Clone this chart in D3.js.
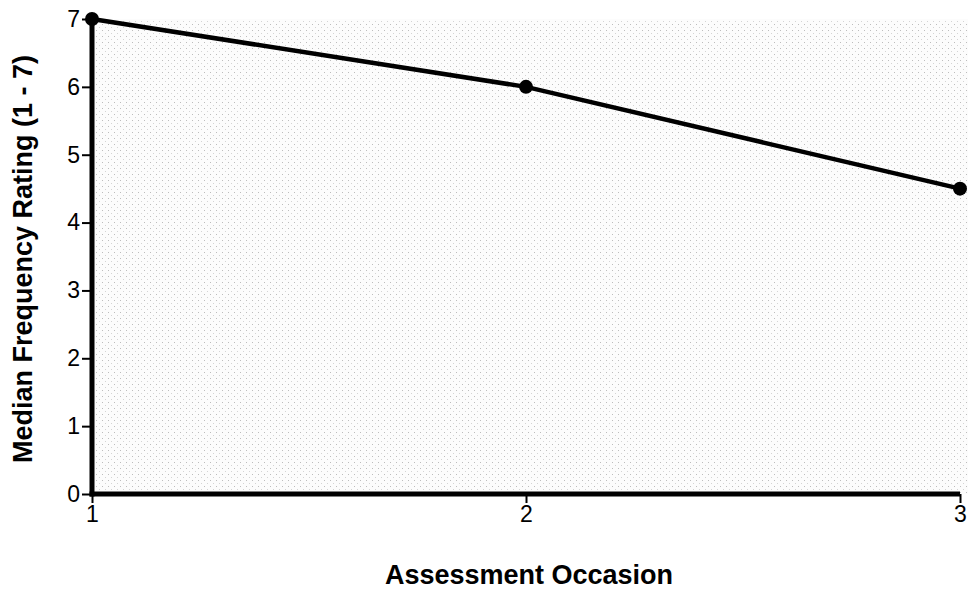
<!DOCTYPE html>
<html>
<head>
<meta charset="utf-8">
<script src="https://cdn.jsdelivr.net/npm/d3@7"></script>
<style>
  body { margin: 0; background: #fff; }
  text { font-family: "Liberation Sans", Arial, Helvetica, sans-serif; }
</style>
</head>
<body>
<svg id="chart" width="968" height="593"></svg>
<script>
// data
const occasions = [1, 2, 3];
const medianRating = [7, 6, 4.5];
const yTicks = [0, 1, 2, 3, 4, 5, 6, 7];

const width = 968, height = 593;
const margin = { top: 19, right: 8, bottom: 99, left: 92 };

const svg = d3.select("#chart");

const x = d3.scaleLinear().domain([1, 3]).range([margin.left, width - margin.right]);
const y = d3.scaleLinear().domain([0, 7]).range([height - margin.bottom, margin.top]);

// stippled halftone background
const defs = svg.append("defs");
const pat = defs.append("pattern")
  .attr("id", "stipple")
  .attr("patternUnits", "userSpaceOnUse")
  .attr("width", 6)
  .attr("height", 6);
pat.append("rect").attr("width", 6).attr("height", 6).attr("fill", "#fcfcfc");
pat.append("rect").attr("x", 0).attr("y", 0).attr("width", 1).attr("height", 1).attr("fill", "#bdbdbd");
pat.append("rect").attr("x", 3).attr("y", 3).attr("width", 1).attr("height", 1).attr("fill", "#d4d4d4");

svg.append("rect")
  .attr("x", x(1))
  .attr("y", y(7))
  .attr("width", width - x(1))
  .attr("height", y(0) - y(7))
  .attr("fill", "url(#stipple)");

// axes
const yAxis = svg.append("g")
  .attr("transform", `translate(${x(1)},0)`)
  .call(d3.axisLeft(y).tickValues(yTicks).tickSize(10).tickPadding(2).tickFormat(d3.format("d")));
const xAxis = svg.append("g")
  .attr("transform", `translate(0,${y(0)})`)
  .call(d3.axisBottom(x).tickValues(occasions).tickSize(9).tickPadding(3).tickFormat(d3.format("d")));

[yAxis, xAxis].forEach(ax => {
  ax.select(".domain").remove();
  ax.selectAll(".tick line").attr("stroke", "#000").attr("stroke-width", 2);
  ax.selectAll(".tick text").attr("fill", "#000").style("font-size", "23px");
});

svg.append("line")
  .attr("x1", x(1)).attr("x2", x(1))
  .attr("y1", y(7)).attr("y2", y(0) + 2.5)
  .attr("stroke", "#000").attr("stroke-width", 5);
svg.append("line")
  .attr("x1", x(1) - 2.5).attr("x2", x(3))
  .attr("y1", y(0)).attr("y2", y(0))
  .attr("stroke", "#000").attr("stroke-width", 5);

// series
const pts = occasions.map((d, i) => ({ x: d, y: medianRating[i] }));
svg.append("path")
  .datum(pts)
  .attr("fill", "none")
  .attr("stroke", "#000")
  .attr("stroke-width", 4.5)
  .attr("d", d3.line().x(d => x(d.x)).y(d => y(d.y)));

svg.append("g")
  .selectAll("circle")
  .data(pts)
  .enter()
  .append("circle")
  .attr("cx", d => x(d.x))
  .attr("cy", d => y(d.y))
  .attr("r", 7)
  .attr("fill", "#000");

// axis titles
svg.append("text")
  .attr("x", 529)
  .attr("y", 584)
  .attr("text-anchor", "middle")
  .style("font-size", "27px")
  .style("font-weight", "bold")
  .text("Assessment Occasion");

svg.append("text")
  .attr("transform", `translate(32,259)rotate(-90)`)
  .attr("text-anchor", "middle")
  .style("font-size", "27px")
  .style("font-weight", "bold")
  .text("Median Frequency Rating (1 - 7)");
</script>
</body>
</html>
